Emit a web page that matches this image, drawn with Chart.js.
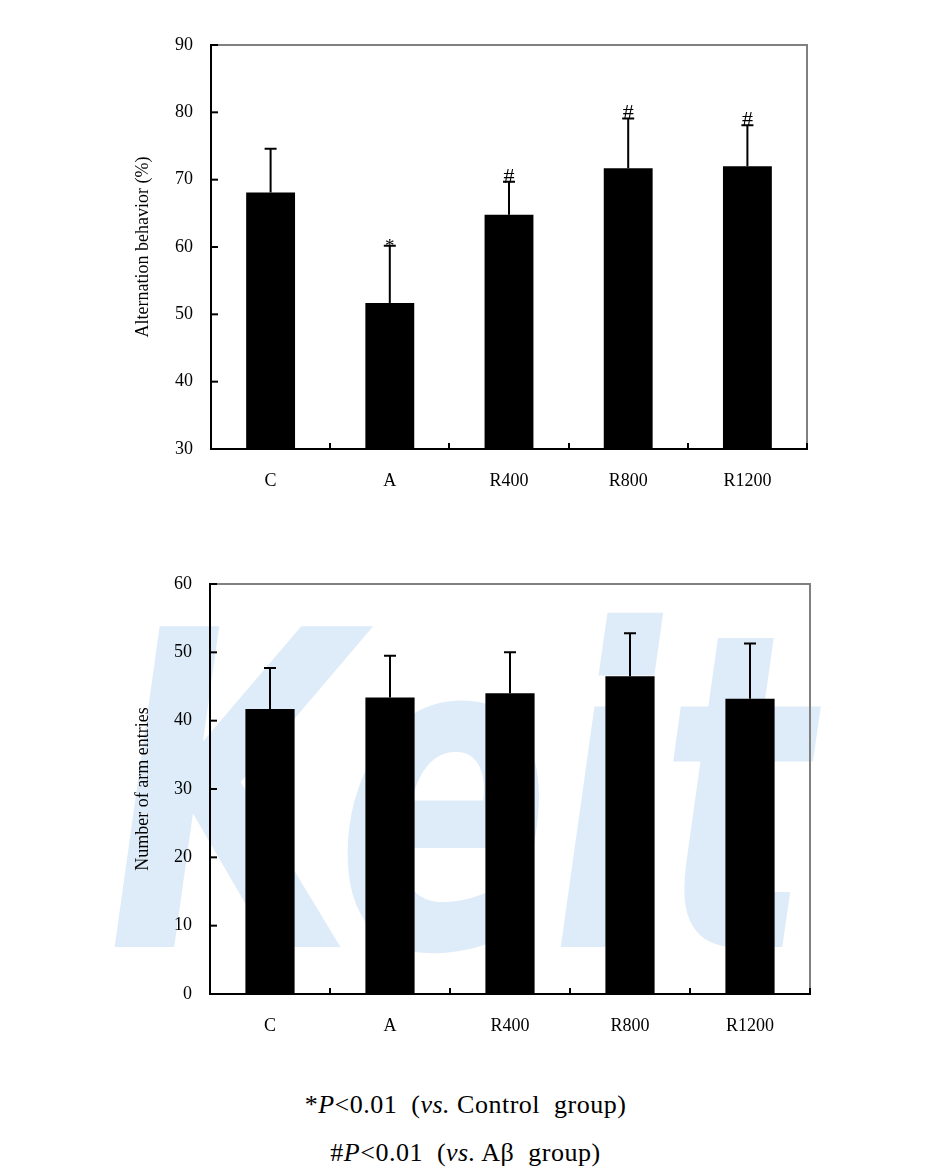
<!DOCTYPE html>
<html><head><meta charset="utf-8">
<script src="https://cdn.jsdelivr.net/npm/chart.js@4"></script>
<style>
html,body{margin:0;padding:0;background:#fff;}
#page{position:relative;width:931px;height:1172px;overflow:hidden;background:#fff;}
.box{position:absolute;left:0;width:931px;}
#b1{top:0;height:520px;}
#b2{top:540px;height:530px;}
.note{position:absolute;left:0;width:931px;text-align:center;font-family:"Liberation Serif",serif;font-size:26px;letter-spacing:0.5px;line-height:30px;color:#000;white-space:pre;}
</style></head><body>
<div id="page">
  <div class="box" id="b1"><canvas id="c1"></canvas></div>
  <div class="box" id="b2"><canvas id="c2"></canvas></div>
  <div class="note" style="top:1090px">*<i>P</i>&lt;0.01  (<i>vs.</i> Control  group)</div>
  <div class="note" style="top:1138px">#<i>P</i>&lt;0.01  (<i>vs.</i> Aβ  group)</div>
</div>
<script>
const categories = ['C', 'A', 'R400', 'R800', 'R1200'];
const alternationMean = [68.1, 51.7, 64.8, 71.7, 72.0];
const alternationErr = [6.5, 8.5, 4.9, 7.4, 6.1];
const alternationMarks = ['', '*', '#', '#', '#'];
const alternationTicks = [30, 40, 50, 60, 70, 80, 90];
const armMean = [41.7, 43.4, 44.0, 46.5, 43.2];
const armErr = [6.0, 6.1, 6.0, 6.3, 8.1];
const armMarks = ['', '', '', '', ''];
const armTicks = [0, 10, 20, 30, 40, 50, 60];

const FONT = 'Liberation Serif';

const framePlugin = {
  id: 'frame',
  afterDatasetsDraw(chart, args, opts) {
    const ctx = chart.ctx, a = chart.chartArea, y = chart.scales.y;
    const meta = chart.getDatasetMeta(0);
    const vals = chart.data.datasets[0].data;
    ctx.save();
    ctx.strokeStyle = '#000';
    ctx.lineWidth = 2;
    meta.data.forEach((bar, i) => {
      const top = y.getPixelForValue(vals[i] + opts.err[i]);
      ctx.beginPath();
      ctx.moveTo(bar.x, bar.y);
      ctx.lineTo(bar.x, top);
      ctx.moveTo(bar.x - 6, top);
      ctx.lineTo(bar.x + 6, top);
      ctx.stroke();
      const m = opts.marks[i];
      if (m) {
        ctx.fillStyle = '#000';
        ctx.textAlign = 'center';
        ctx.textBaseline = 'alphabetic';
        if (m === '*') {
          ctx.font = '19px "' + FONT + '"';
          ctx.fillText(m, bar.x, top + 6);
        } else {
          ctx.font = '22px "' + FONT + '"';
          ctx.fillText(m, bar.x, top + 1);
        }
      }
    });
    ctx.strokeStyle = '#808080';
    ctx.lineWidth = 2;
    ctx.beginPath();
    ctx.moveTo(a.left, a.top);
    ctx.lineTo(a.right, a.top);
    ctx.lineTo(a.right, a.bottom);
    ctx.stroke();
    ctx.strokeStyle = '#000';
    ctx.lineWidth = 2;
    ctx.beginPath();
    ctx.moveTo(a.left, a.top - 1);
    ctx.lineTo(a.left, a.bottom);
    ctx.lineTo(a.right + 1, a.bottom);
    ctx.stroke();
    y.ticks.forEach(t => {
      const py = y.getPixelForValue(t.value);
      ctx.beginPath();
      ctx.moveTo(a.left, py);
      ctx.lineTo(a.left + 7, py);
      ctx.stroke();
    });
    for (let i = 1; i < meta.data.length; i++) {
      const px = Math.round((meta.data[i - 1].x + meta.data[i].x) / 2);
      ctx.beginPath();
      ctx.moveTo(px, a.bottom);
      ctx.lineTo(px, a.bottom - 6);
      ctx.stroke();
    }
    ctx.beginPath();
    ctx.moveTo(a.right, a.bottom);
    ctx.lineTo(a.right, a.bottom - 6);
    ctx.stroke();
    ctx.restore();
  }
};

const watermarkPlugin = {
  id: 'watermark',
  beforeDraw(chart, args, opts) {
    if (!opts.show) return;
    const ctx = chart.ctx;
    ctx.save();
    ctx.fillStyle = 'rgb(221,236,248)';
    ctx.font = 'italic bold 440px "DejaVu Sans"';
    ctx.textBaseline = 'alphabetic';
    ctx.translate(108, 407);
    ctx.scale(0.72, 1);
    ctx.fillText('Keit', 0, 0);
    ctx.restore();
  }
};

function makeChart(id, values, errs, marks, ticks, title, yWidth, xHeight, pad, showWm) {
  const step = ticks[1] - ticks[0];
  return new Chart(document.getElementById(id), {
    type: 'bar',
    data: {
      labels: categories,
      datasets: [{
        data: values,
        backgroundColor: '#000',
        borderWidth: 0,
        barPercentage: 0.41,
        categoryPercentage: 1
      }]
    },
    options: {
      responsive: true,
      maintainAspectRatio: false,
      animation: false,
      layout: { padding: pad },
      plugins: {
        legend: { display: false },
        tooltip: { enabled: false },
        frame: { err: errs, marks: marks },
        watermark: { show: showWm }
      },
      scales: {
        x: {
          grid: { display: false, drawTicks: false, tickLength: 0 },
          border: { display: false },
          ticks: { color: '#000', padding: 21, font: { family: FONT, size: 18 } },
          afterFit(s) { s.height = xHeight; }
        },
        y: {
          min: ticks[0],
          max: ticks[ticks.length - 1],
          grid: { display: false, drawTicks: false, tickLength: 0 },
          border: { display: false },
          ticks: { stepSize: step, color: '#000', padding: 18, font: { family: FONT, size: 18 } },
          title: { display: true, text: title, color: '#000', font: { family: FONT, size: 18 }, padding: { top: 132, bottom: 0 } },
          afterFit(s) { s.width = yWidth; }
        }
      }
    },
    plugins: [framePlugin, watermarkPlugin]
  });
}

makeChart('c1', alternationMean, alternationErr, alternationMarks, alternationTicks,
  'Alternation behavior (%)', 211, 71, { top: 45, right: 124, left: 0, bottom: 0 }, false);
makeChart('c2', armMean, armErr, armMarks, armTicks,
  'Number of arm entries', 210, 76, { top: 44, right: 121, left: 0, bottom: 0 }, true);
</script>
</body></html>
